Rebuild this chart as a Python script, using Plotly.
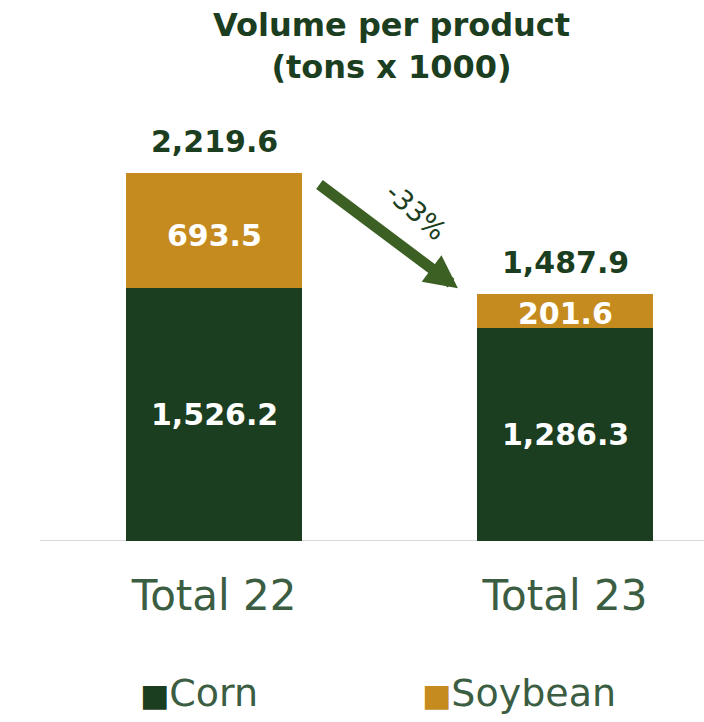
import plotly.graph_objects as go

# Volumes per product, in thousand tons
categories = ["Total 22", "Total 23"]
corn = [1526.2, 1286.3]
soybean = [693.5, 201.6]
totals = [2219.6, 1487.9]
change_label = "-33%"

CORN_COLOR = "#1b3d20"
SOY_COLOR = "#c68b1f"
TEXT_GREEN = "#1b3d20"
LABEL_GREEN = "#3b5d42"
ARROW_GREEN = "#3c5f24"
FONT = "DejaVu Sans"

x_idx = list(range(len(categories)))

fig = go.Figure()
fig.add_trace(go.Bar(x=x_idx, y=corn, name="Corn", marker_color=CORN_COLOR,
                     marker_line_width=0, width=0.5, showlegend=False))
fig.add_trace(go.Bar(x=x_idx, y=soybean, name="Soybean", marker_color=SOY_COLOR,
                     marker_line_width=0, width=0.5, showlegend=False))

annotations = []
# Segment values, centred in each stacked segment
for i in x_idx:
    annotations.append(dict(x=i, y=corn[i] / 2, text=f"<b>{corn[i]:,.1f}</b>",
                            showarrow=False, font=dict(family=FONT, size=30, color="white")))
    annotations.append(dict(x=i, y=corn[i] + soybean[i] / 2, text=f"<b>{soybean[i]:,.1f}</b>",
                            showarrow=False, yshift=-5 if soybean[i] > 400 else -2,
                            font=dict(family=FONT, size=30, color="white")))
    annotations.append(dict(x=i, y=totals[i], text=f"<b>{totals[i]:,.1f}</b>",
                            showarrow=False, yanchor="bottom", yshift=12,
                            font=dict(family=FONT, size=30, color=TEXT_GREEN)))

# Change arrow between the two totals
annotations.append(dict(x=0.695, y=1524, ax=0.296, ay=2157, xref="x", yref="y",
                        axref="x", ayref="y", text="", showarrow=True,
                        arrowhead=2, arrowsize=0.6, arrowwidth=11, arrowcolor=ARROW_GREEN))
annotations.append(dict(x=0.575, y=1985, text=change_label, showarrow=False, textangle=42,
                        font=dict(family=FONT, size=27, color=TEXT_GREEN)))

# Title block
annotations.append(dict(x=0.529, y=1.218, xref="paper", yref="paper", xanchor="center",
                        yanchor="top", showarrow=False,
                        text="<b>Volume per product<br>(tons x 1000)</b>",
                        font=dict(family=FONT, size=32, color=TEXT_GREEN)))

# Legend row
legend_items = [("Corn", CORN_COLOR, 0.148), ("Soybean", SOY_COLOR, 0.572)]
for name, color, xpos in legend_items:
    annotations.append(dict(
        x=xpos, y=-0.345, xref="paper", yref="paper", xanchor="left", yanchor="middle",
        text=f"<span style='color:{color};font-size:31px'>■</span>{name}", showarrow=False,
        font=dict(family=FONT, size=38, color=LABEL_GREEN)))

fig.update_layout(
    width=704, height=722,
    margin=dict(l=40, r=0, t=100, b=181),
    paper_bgcolor="white", plot_bgcolor="white",
    barmode="stack",
    xaxis=dict(tickmode="array", tickvals=x_idx, ticktext=categories,
               range=[-0.496, 1.396], showgrid=False, zeroline=False,
               showline=False, ticks="", ticklabelstandoff=26,
               tickfont=dict(family=FONT, size=42, color=LABEL_GREEN)),
    yaxis=dict(range=[0, 2660], visible=False, showgrid=False, zeroline=False),
    annotations=annotations,
    shapes=[dict(type="line", xref="paper", yref="y", x0=0, x1=1, y0=0, y1=0,
                 line=dict(color="#d9d9d9", width=2), layer="below")],
)

fig.write_html("out.html")
